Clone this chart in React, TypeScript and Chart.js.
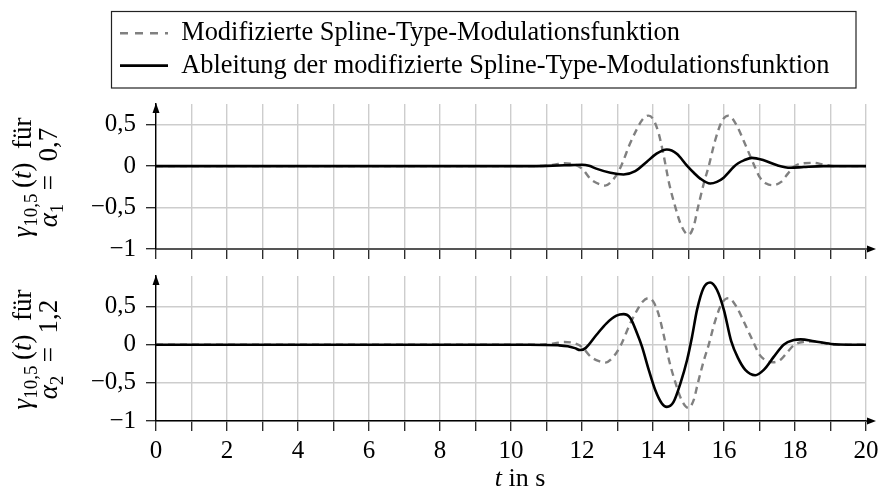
import React, { useEffect, useRef } from 'react';
import { Chart, registerables } from 'chart.js';

Chart.register(...registerables);

// ---------- data ----------
const legendLabels = [
  'Modifizierte Spline-Type-Modulationsfunktion',
  'Ableitung der modifizierte Spline-Type-Modulationsfunktion',
];

// modified spline-type modulation function (dashed, same in both panels)
const tDash = [0, 10.5, 11.0, 11.25, 11.5, 11.75, 12.0, 12.25, 12.5, 12.65, 12.9, 13.1, 13.35, 13.55, 13.7, 13.87, 14.0, 14.15, 14.3, 14.45, 14.6, 14.8, 15.0, 15.15, 15.25, 15.43, 15.57, 15.75, 15.95, 16.13, 16.36, 16.55, 16.73, 16.87, 17.0, 17.19, 17.38, 17.61, 17.8, 17.99, 18.23, 18.51, 18.8, 19.1, 19.5, 20];
const fDash = [0, 0, 0.005, 0.02, 0.035, 0.025, -0.03, -0.16, -0.22, -0.235, -0.15, 0, 0.27, 0.45, 0.56, 0.61, 0.57, 0.41, 0.13, -0.2, -0.45, -0.72, -0.83, -0.72, -0.53, -0.21, 0, 0.31, 0.55, 0.61, 0.49, 0.31, 0.13, -0.01, -0.13, -0.21, -0.23, -0.19, -0.09, 0, 0.035, 0.04, 0.02, 0, 0, 0];

// derivative, alpha1 = 0.7 (top panel)
const tTop = [0, 10.5, 11.0, 11.5, 12.0, 12.2, 12.4, 12.8, 13.17, 13.5, 13.82, 14.1, 14.39, 14.67, 14.95, 15.15, 15.33, 15.61, 15.8, 15.99, 16.1, 16.27, 16.4, 16.56, 16.79, 17.12, 17.5, 17.87, 18.25, 18.8, 20];
const dTop = [0, 0, 0.003, 0.01, 0.017, 0.005, -0.03, -0.08, -0.10, -0.06, 0.05, 0.15, 0.20, 0.15, 0.01, -0.08, -0.15, -0.21, -0.19, -0.14, -0.09, -0.01, 0.035, 0.07, 0.10, 0.07, 0.01, -0.02, -0.01, 0, 0];

// derivative, alpha2 = 1.2 (bottom panel)
const tBot = [0, 10.5, 11.33, 11.6, 11.8, 11.95, 12.1, 12.41, 12.69, 12.97, 13.17, 13.36, 13.55, 13.69, 13.88, 14.06, 14.25, 14.39, 14.58, 14.77, 14.96, 15.1, 15.24, 15.42, 15.61, 15.8, 16.0, 16.2, 16.4, 16.6, 16.88, 17.12, 17.4, 17.68, 17.97, 18.16, 18.54, 19.01, 19.5, 20];
const dBot = [0, 0, -0.008, -0.02, -0.045, -0.07, -0.045, 0.13, 0.28, 0.38, 0.40, 0.35, 0.15, -0.026, -0.33, -0.59, -0.77, -0.815, -0.75, -0.51, -0.2, 0.105, 0.456, 0.74, 0.815, 0.72, 0.45, 0.05, -0.18, -0.33, -0.40, -0.33, -0.16, 0, 0.06, 0.07, 0.045, 0.01, 0, 0];

const xTickValues = [0, 1, 2, 3, 4, 5, 6, 7, 8, 9, 10, 11, 12, 13, 14, 15, 16, 17, 18, 19, 20];
const xTickLabels = ['0', '', '2', '', '4', '', '6', '', '8', '', '10', '', '12', '', '14', '', '16', '', '18', '', '20'];
const yTickValues = [-1, -0.5, 0, 0.5];
const yTickLabels = ['−1', '−0,5', '0', '0,5'];

type Run = { text: string; italic?: boolean; sub?: boolean };
const yTitleLine1: Run[] = [{ text: 'γ', italic: true }, { text: '10,5', sub: true }, { text: '\u2009(' }, { text: 't', italic: true }, { text: ')\u2002für' }];
const yTitleTopLine2: Run[] = [{ text: 'α', italic: true }, { text: '1', sub: true }, { text: '\u2002=\u20020,7' }];
const yTitleBotLine2: Run[] = [{ text: 'α', italic: true }, { text: '2', sub: true }, { text: '\u2002=\u20021,2' }];
const xTitle: Run[] = [{ text: 't', italic: true }, { text: ' in s' }];

// ---------- style ----------
const SERIF = "'Liberation Serif', 'DejaVu Serif', serif";
const GRID = '#cdcdcd';
const LEG = { left: 112, top: 12, right: 856, bottom: 88 };

function drawRich(ctx: CanvasRenderingContext2D, runs: Run[], x: number, y: number, rotate: boolean, size: number) {
  const subSize = Math.round(size * 0.7);
  const fontOf = (r: Run) => `${r.italic ? 'italic ' : ''}${r.sub ? subSize : size}px ${SERIF}`;
  ctx.save();
  ctx.translate(x, y);
  if (rotate) ctx.rotate(-Math.PI / 2);
  ctx.fillStyle = '#000';
  ctx.textBaseline = 'alphabetic';
  ctx.textAlign = 'left';
  const ws = runs.map((r) => { ctx.font = fontOf(r); return ctx.measureText(r.text).width; });
  let u = -ws.reduce((a, b) => a + b, 0) / 2;
  runs.forEach((r, i) => {
    ctx.font = fontOf(r);
    ctx.fillText(r.text, u, r.sub ? size * 0.22 : 0);
    u += ws[i];
  });
  ctx.restore();
}

type Panel = {
  solidT: number[];
  solidY: number[];
  yMin: number;
  yMax: number;
  showLegend: boolean;
  showXLabels: boolean;
  xBorderColor: string;
  xBorderWidth: number;
  padTop: number;
  xHeight: number;
  line2: Run[];
  drawXTitle: boolean;
};

function makeDecor(p: Panel) {
  return {
    id: 'decor',
    beforeDraw(chart: any) {
      if (p.showLegend && chart.legend) {
        const lg = chart.legend;
        lg.left = LEG.left + 2;
        lg.top = LEG.top + 2;
        lg.right = LEG.right;
        lg.bottom = LEG.bottom;
        lg.width = LEG.right - LEG.left - 2;
        lg.height = LEG.bottom - LEG.top - 2;
      }
    },
    afterDraw(chart: any) {
      const ctx: CanvasRenderingContext2D = chart.ctx;
      const a = chart.chartArea;
      ctx.save();
      // y arrow
      ctx.fillStyle = '#000';
      ctx.beginPath();
      ctx.moveTo(a.left, a.top - 1);
      ctx.lineTo(a.left - 3.5, a.top + 9);
      ctx.lineTo(a.left + 3.5, a.top + 9);
      ctx.closePath();
      ctx.fill();
      // x arrow
      ctx.strokeStyle = p.xBorderColor;
      ctx.lineWidth = p.xBorderWidth;
      ctx.beginPath();
      ctx.moveTo(a.right, a.bottom);
      ctx.lineTo(a.right + 4, a.bottom);
      ctx.stroke();
      ctx.fillStyle = '#000';
      ctx.beginPath();
      ctx.moveTo(a.right + 10, a.bottom);
      ctx.lineTo(a.right + 1, a.bottom - 3.5);
      ctx.lineTo(a.right + 1, a.bottom + 3.5);
      ctx.closePath();
      ctx.fill();
      // legend frame
      if (p.showLegend) {
        ctx.strokeStyle = '#222';
        ctx.lineWidth = 1.2;
        ctx.strokeRect(LEG.left - 0.5, LEG.top - 0.5, LEG.right - LEG.left + 0.5, LEG.bottom - LEG.top + 0.5);
      }
      ctx.restore();
      // y title
      const cy = (a.top + a.bottom) / 2 + 1;
      drawRich(ctx, yTitleLine1, 31, cy, true, 27);
      drawRich(ctx, p.line2, 57, cy, true, 27);
      if (p.drawXTitle) {
        drawRich(ctx, xTitle, (a.left + a.right) / 2 + 9, chart.height - 10, false, 26);
      }
    },
  };
}

function makeConfig(p: Panel): any {
  const dashed = tDash.map((t, i) => ({ x: t, y: fDash[i] }));
  const solid = p.solidT.map((t, i) => ({ x: t, y: p.solidY[i] }));
  return {
    type: 'line',
    data: {
      datasets: [
        {
          label: legendLabels[0],
          data: dashed,
          borderColor: '#808080',
          borderWidth: 2.4,
          borderDash: [7, 5],
          pointRadius: 0,
          fill: false,
          order: 1,
          cubicInterpolationMode: 'monotone',
        },
        {
          label: legendLabels[1],
          data: solid,
          borderColor: '#000000',
          borderWidth: 2.6,
          pointRadius: 0,
          fill: false,
          order: 0,
          cubicInterpolationMode: 'monotone',
        },
      ],
    },
    options: {
      animation: false,
      responsive: false,
      maintainAspectRatio: false,
      devicePixelRatio: 1,
      events: [],
      layout: { padding: { top: p.padTop, left: 0, right: 12, bottom: 0 } },
      plugins: {
        tooltip: { enabled: false },
        title: { display: false },
        legend: {
          display: p.showLegend,
          position: 'chartArea',
          align: 'start',
          labels: {
            usePointStyle: true,
            pointStyle: 'line',
            pointStyleWidth: 48,
            boxHeight: 26,
            padding: 6,
            color: '#000',
            font: { family: SERIF, size: 26.4 },
            sort: (a: any, b: any) => a.datasetIndex - b.datasetIndex,
            generateLabels: (chart: any) => {
              const base = (Chart.defaults as any).plugins.legend.labels.generateLabels(chart);
              return base.map((it: any) => {
                const ds = chart.data.datasets[it.datasetIndex];
                return { ...it, lineDash: ds.borderDash ? [8, 7] : [], lineWidth: ds.borderWidth, strokeStyle: ds.borderColor };
              });
            },
          },
        },
      },
      scales: {
        x: {
          type: 'linear',
          min: 0,
          max: 20,
          afterBuildTicks: (s: any) => { s.ticks = xTickValues.map((v) => ({ value: v })); },
          ticks: {
            display: p.showXLabels,
            autoSkip: false,
            maxRotation: 0,
            padding: 5,
            color: '#000',
            font: { family: SERIF, size: 25 },
            callback: (v: any) => xTickLabels[xTickValues.indexOf(Number(v))] ?? '',
          },
          grid: { color: GRID, lineWidth: 1.4, drawTicks: true, tickLength: 10, tickColor: '#222', tickWidth: 1.3 },
          border: { display: true, color: p.xBorderColor, width: p.xBorderWidth },
          afterFit: (s: any) => { s.height = p.xHeight; s.paddingLeft = 0; s.paddingRight = 0; },
        },
        y: {
          type: 'linear',
          min: p.yMin,
          max: p.yMax,
          afterBuildTicks: (s: any) => { s.ticks = yTickValues.map((v) => ({ value: v })); },
          ticks: {
            padding: 10,
            color: '#000',
            font: { family: SERIF, size: 25 },
            callback: (v: any) => yTickLabels[yTickValues.indexOf(Number(v))] ?? '',
          },
          grid: { color: GRID, lineWidth: 1.4, drawTicks: true, tickLength: 10, tickColor: '#222', tickWidth: 1.3 },
          border: { display: true, color: '#000', width: 1.4 },
          afterFit: (s: any) => { s.width = 156; s.paddingTop = 0; s.paddingBottom = 0; },
        },
      },
    },
    plugins: [makeDecor(p)],
  };
}

export default function App() {
  const topRef = useRef<HTMLCanvasElement>(null);
  const botRef = useRef<HTMLCanvasElement>(null);

  useEffect(() => {
    const c1 = new Chart(topRef.current as HTMLCanvasElement, makeConfig({
      solidT: tTop, solidY: dTop, yMin: -1, yMax: 0.75,
      showLegend: true, showXLabels: false,
      xBorderColor: '#555555', xBorderWidth: 2,
      padTop: 104, xHeight: 13, line2: yTitleTopLine2, drawXTitle: false,
    }));
    const c2 = new Chart(botRef.current as HTMLCanvasElement, makeConfig({
      solidT: tBot, solidY: dBot, yMin: -1, yMax: 0.9,
      showLegend: false, showXLabels: true,
      xBorderColor: '#000000', xBorderWidth: 1.4,
      padTop: 14, xHeight: 75, line2: yTitleBotLine2, drawXTitle: true,
    }));
    return () => { c1.destroy(); c2.destroy(); };
  }, []);

  return (
    <div style={{ position: 'absolute', left: 0, top: 0, width: 878, height: 496, background: '#fff' }}>
      <canvas ref={topRef} width={878} height={262} style={{ position: 'absolute', left: 0, top: 0 }} />
      <canvas ref={botRef} width={878} height={234} style={{ position: 'absolute', left: 0, top: 262 }} />
    </div>
  );
}
